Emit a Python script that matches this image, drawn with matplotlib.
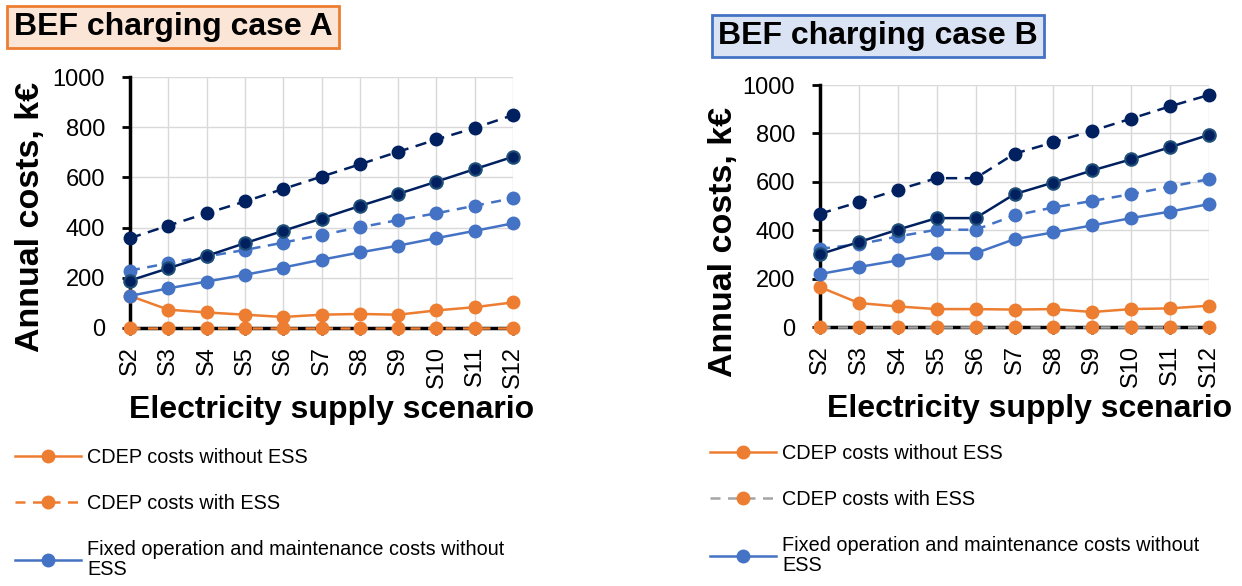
import matplotlib
matplotlib.use("Agg")
import matplotlib.pyplot as plt
from matplotlib.lines import Line2D

plt.rcParams["font.family"] = ["Liberation Sans", "DejaVu Sans"]

scenarios = ["S2", "S3", "S4", "S5", "S6", "S7", "S8", "S9", "S10", "S11", "S12"]

# case A
cdep_no_ess_a = [128, 73, 62, 53, 44, 53, 56, 53, 70, 83, 102]
cdep_ess_a = [0, 0, 0, 0, 0, 0, 0, 0, 0, 0, 0]
fixed_no_ess_a = [128, 158, 185, 212, 241, 272, 301, 328, 358, 387, 417]
fixed_ess_a = [229, 258, 285, 311, 340, 371, 401, 430, 457, 487, 517]
total_no_ess_a = [189, 238, 287, 338, 387, 436, 486, 534, 583, 633, 682]
total_ess_a = [358, 408, 457, 504, 554, 603, 652, 702, 751, 797, 848]

# case B
cdep_no_ess_b = [165, 99, 85, 74, 74, 72, 74, 62, 74, 77, 88]
cdep_ess_b = [0, 0, 0, 0, 0, 0, 0, 0, 0, 0, 0]
fixed_no_ess_b = [219, 248, 275, 305, 305, 363, 391, 420, 450, 477, 508]
fixed_ess_b = [323, 342, 374, 402, 402, 461, 494, 521, 549, 580, 611]
total_no_ess_b = [301, 351, 402, 450, 450, 549, 597, 647, 693, 743, 794]
total_ess_b = [468, 516, 567, 615, 615, 716, 763, 811, 861, 912, 959]

legend_labels = [
    "CDEP costs without ESS",
    "CDEP costs with ESS",
    "Fixed operation and maintenance costs without\nESS",
]

ORANGE = "#ED7D31"
BLUE = "#4472C4"
NAVY = "#002060"
GRAY = "#A5A5A5"

W, H = 1242, 586
fig = plt.figure(figsize=(W / 100, H / 100), dpi=100)


def px_axes(x0, x1, y_top, y_bot):
    return fig.add_axes([x0 / W, 1 - y_bot / H, (x1 - x0) / W, (y_bot - y_top) / H])


def draw_panel(ax, cdep_no, cdep_ess, fixed_no, fixed_ess, tot_no, tot_ess,
               ess_line_color, ylab_pos, xlab_pos):
    x = list(range(len(scenarios)))
    kw = dict(marker="o", markersize=9, linewidth=1.8, clip_on=False, zorder=3)
    ax.plot(x, cdep_ess, color=ess_line_color, linestyle=(0, (4, 3)),
            markerfacecolor=ORANGE, markeredgecolor=ORANGE, **kw)
    ax.plot(x, cdep_no, color=ORANGE, **kw)
    ax.plot(x, fixed_no, color=BLUE, **kw)
    ax.plot(x, fixed_ess, color=BLUE, linestyle=(0, (4, 3)), **kw)
    ax.plot(x, tot_no, color=NAVY, markeredgecolor="#1F4E79", markeredgewidth=1.5, **kw)
    ax.plot(x, tot_ess, color=NAVY, linestyle=(0, (4.5, 3)), **kw)

    ax.set_xlim(0, len(scenarios) - 1)
    ax.set_ylim(0, 1000)
    ax.set_yticks(range(0, 1001, 200))
    ax.set_xticks(x)
    ax.set_xticklabels(scenarios, rotation=90, fontsize=17)
    ax.tick_params(axis="y", labelsize=17, length=6, width=2, pad=12)
    ax.tick_params(axis="x", length=5, width=2, pad=8)
    ax.grid(True, color="#D9D9D9", linewidth=1)
    ax.set_axisbelow(True)
    for s in ["top", "right"]:
        ax.spines[s].set_visible(False)
    ax.spines["left"].set_linewidth(2.5)
    ax.spines["bottom"].set_linewidth(2.5)
    ax.spines["left"].set_zorder(2.6)
    ax.text(ylab_pos[0], ylab_pos[1], "Annual costs, k€", transform=ax.transAxes,
            rotation=90, ha="center", va="center", fontsize=24.5, fontweight="bold")
    ax.text(xlab_pos[0], xlab_pos[1], "Electricity supply scenario", transform=ax.transAxes,
            ha="center", va="center", fontsize=23, fontweight="bold")


def legend_handles(ess_line_color):
    return [
        Line2D([], [], color=ORANGE, marker="o", markersize=9, linewidth=1.8),
        Line2D([], [], color=ess_line_color, linestyle=(0, (4, 3)), marker="o",
               markersize=9, markerfacecolor=ORANGE, markeredgecolor=ORANGE, linewidth=1.8),
        Line2D([], [], color=BLUE, marker="o", markersize=9, linewidth=1.8),
    ]


ax_a = px_axes(130, 513, 77, 328)
draw_panel(ax_a, cdep_no_ess_a, cdep_ess_a, fixed_no_ess_a, fixed_ess_a,
           total_no_ess_a, total_ess_a, ORANGE, (-0.261, 0.442), (0.526, -0.325))
ax_b = px_axes(820, 1209, 85, 327)
draw_panel(ax_b, cdep_no_ess_b, cdep_ess_b, fixed_no_ess_b, fixed_ess_b,
           total_no_ess_b, total_ess_b, GRAY, (-0.249, 0.351), (0.54, -0.34))

fig.text(173 / W, 1 - 27 / H, "BEF charging case A", fontsize=23, fontweight="bold",
         ha="center", va="center",
         bbox=dict(boxstyle="square,pad=0.2", facecolor="#FBE5D6", edgecolor=ORANGE, linewidth=2))
fig.text(878 / W, 1 - 36 / H, "BEF charging case B", fontsize=23, fontweight="bold",
         ha="center", va="center",
         bbox=dict(boxstyle="square,pad=0.2", facecolor="#DAE3F3", edgecolor=BLUE, linewidth=2))

for handles, x0, y0 in [(legend_handles(ORANGE), 15, 448), (legend_handles(GRAY), 710, 444)]:
    leg = fig.legend(handles, legend_labels, loc="upper left",
                     bbox_to_anchor=(x0 / W, 1 - y0 / H), frameon=False, fontsize=14.3,
                     handlelength=3.3, handletextpad=0.35, labelspacing=1.35, borderpad=0,
                     borderaxespad=0)
    for t in leg.get_texts():
        t.set_linespacing(1.1)

fig.savefig("out.png", dpi=100)
